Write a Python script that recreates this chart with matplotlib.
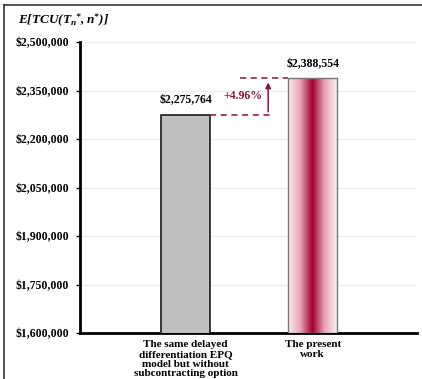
import numpy as np
import matplotlib.pyplot as plt
from matplotlib.colors import LinearSegmentedColormap
from matplotlib.patches import Rectangle
from matplotlib.lines import Line2D

plt.rcParams['font.family'] = 'Liberation Serif'
plt.rcParams['font.weight'] = 'bold'
plt.rcParams['mathtext.fontset'] = 'custom'
plt.rcParams['mathtext.rm'] = 'Liberation Serif:italic:bold'
plt.rcParams['mathtext.it'] = 'Liberation Serif:italic:bold'
plt.rcParams['mathtext.bf'] = 'Liberation Serif:bold'

# data
categories = ['The same delayed\ndifferentiation EPQ\nmodel but without\nsubcontracting option',
              'The present\nwork']
values = [2275764, 2388554]
value_labels = ['$2,275,764', '$2,388,554']
increase_label = '+4.96%'
yticks = [1600000, 1750000, 1900000, 2050000, 2200000, 2350000, 2500000]

fig = plt.figure(figsize=(4.22, 3.79), dpi=100)
ax = fig.add_axes([0.1896, 0.1214, 0.7984, 0.7676])

# outer frame (only left and top edges fall inside the picture)
fx, fy = 4/422, 1 - 5/379
fig.add_artist(Line2D([fx, fx], [0, fy], transform=fig.transFigure, color='#333333', lw=1.2))
fig.add_artist(Line2D([fx, 1], [fy, fy], transform=fig.transFigure, color='#333333', lw=1.2))

x = np.arange(len(categories))
w = 0.385
red = '#a3002a'

ax.bar(x[0], values[0], width=w, color='#c0c0c0', edgecolor='#1a1a1a', linewidth=1.2, zorder=3)

# gradient bar
cmap = LinearSegmentedColormap.from_list('g', ['#fbeef2', '#e7a6b8', red, '#e7a6b8', '#fbeef2'])
grad = np.linspace(0, 1, 256).reshape(1, -1)
ax.imshow(grad, cmap=cmap, aspect='auto', zorder=3,
          extent=[x[1] - w/2, x[1] + w/2, 1600000, values[1]])
ax.add_patch(Rectangle((x[1] - w/2, 1600000), w, values[1] - 1600000, fill=False,
                       edgecolor='#777777', linewidth=1.0, zorder=4))

for xi, v, lab in zip(x, values, value_labels):
    ax.text(xi, v + 25000, lab, ha='center', va='bottom', fontsize=8.5, fontweight='bold')

# increase annotation
acol = '#8b1538'
xa = 0.65
ax.plot([x[0] + w/2, xa + 0.03], [values[0], values[0]], ls=(0, (4, 3)), color=acol, lw=1.1, zorder=4)
ax.plot([0.43, x[1] - w/2], [values[1], values[1]], ls=(0, (4, 3)), color=acol, lw=1.1, zorder=4)
ax.annotate('', xy=(xa, values[1] - 5000), xytext=(xa, values[0]),
            arrowprops=dict(arrowstyle='-|>', color=acol, lw=1.1, mutation_scale=8), zorder=4)
ax.text(0.45, (values[0] + values[1]) / 2 + 2000, increase_label, ha='center', va='center',
        fontsize=8.5, fontweight='bold', color=acol)

ax.set_xlim(-0.83, 1.82)
ax.set_ylim(1600000, 2500000)
ax.set_yticks(yticks)
ax.set_yticklabels(['${:,}'.format(t) for t in yticks], fontsize=8.5, fontweight='bold')
ax.set_xticks(x)
ax.set_xticklabels(categories, fontsize=8, fontweight='bold', linespacing=1.12, va='top')
ax.tick_params(axis='x', length=0, pad=5)
ax.tick_params(axis='y', length=3, width=1, pad=5)
ax.grid(axis='y', color='#eeeeee', linewidth=1, zorder=0)
ax.set_axisbelow(True)
for s in ['top', 'right']:
    ax.spines[s].set_visible(False)
ax.spines['left'].set_linewidth(2)
ax.spines['bottom'].set_linewidth(2)

fig.text(18/422, 1 - 20/379, r'$E[TCU(T_n{}^{*},n{}^{*})]$', fontsize=9.5, va='center', ha='left')

fig.savefig('out.png', dpi=100)
